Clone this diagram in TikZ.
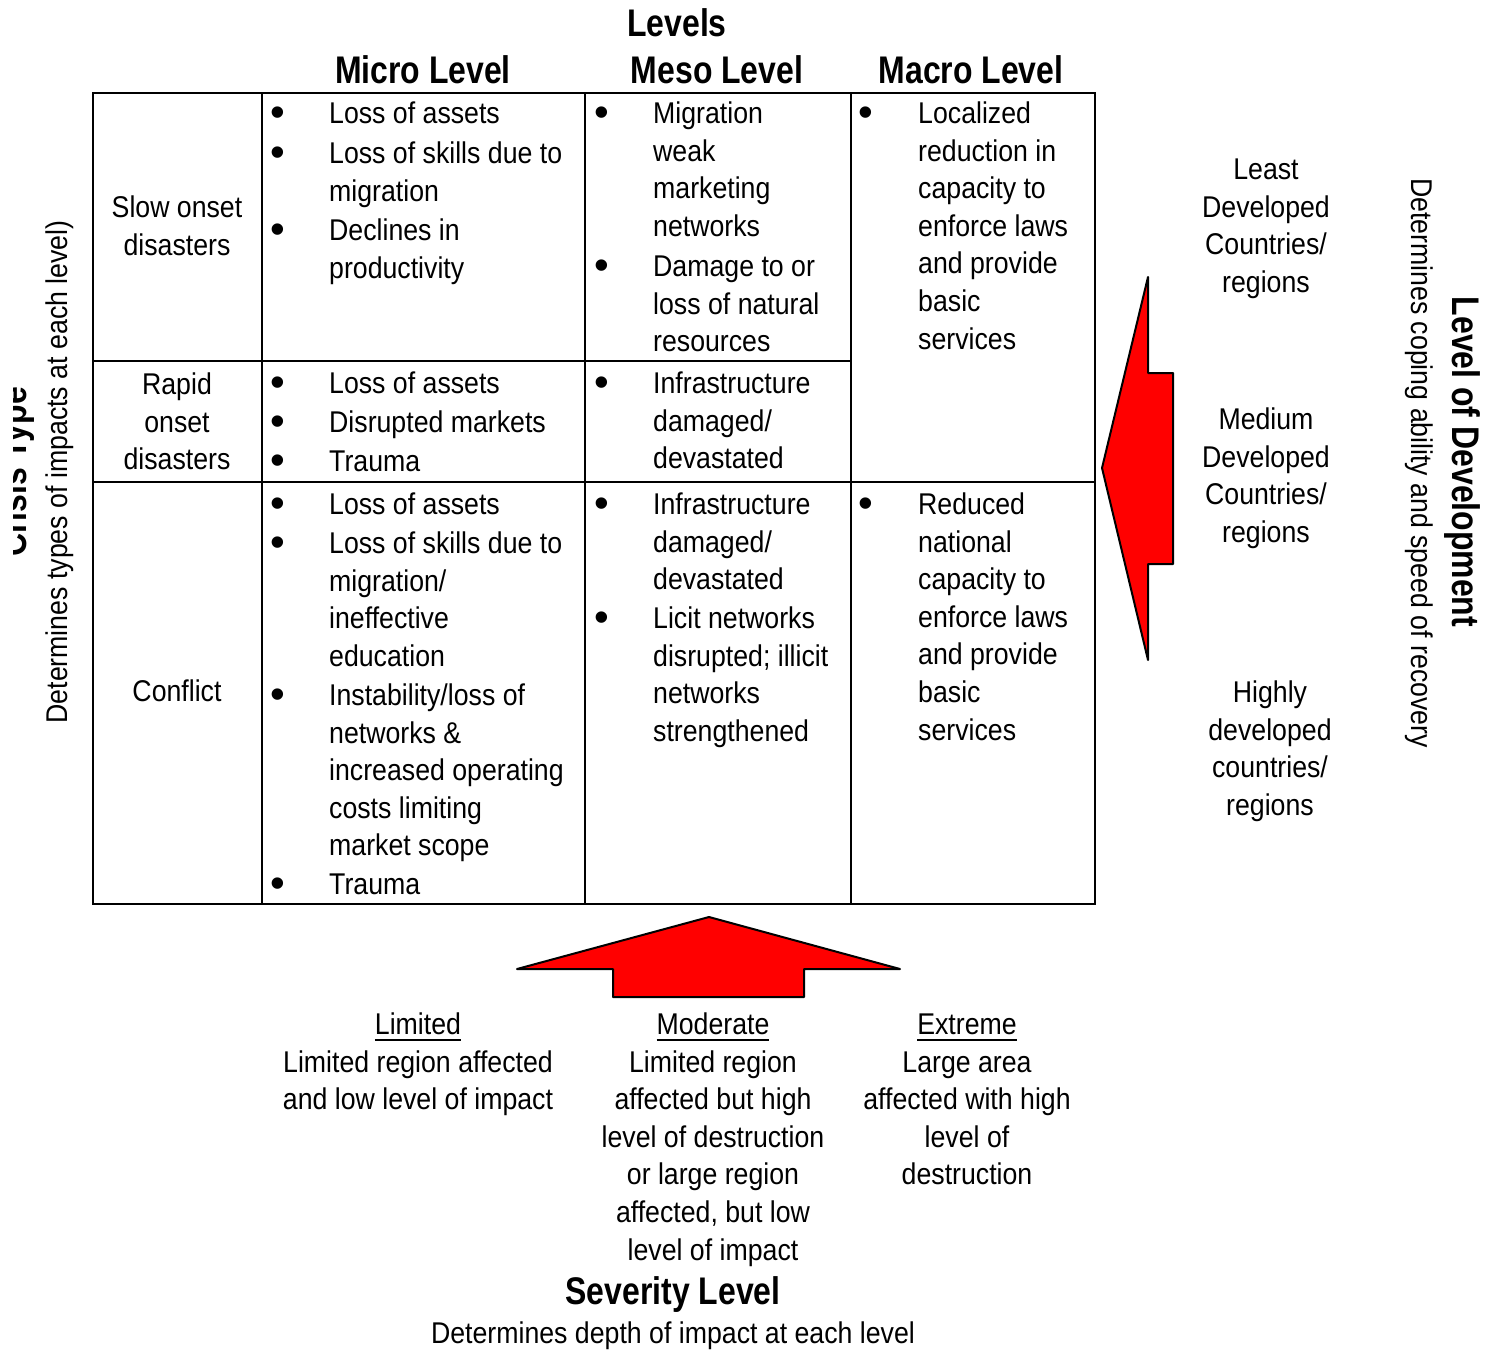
\documentclass[tikz,border=0pt]{standalone}
\usepackage{fontspec}
\setmainfont{Liberation Sans}[FakeStretch=0.89]
\newfontfamily\hdfont{Liberation Sans}[FakeStretch=0.83]
\newfontfamily\bulfont{Liberation Sans}
\newcommand{\myul}[1]{\setbox0\hbox{#1}\leavevmode\rlap{\rule[-6pt]{\wd0}{2pt}}\box0}
\tikzset{
  reg/.style={font=\fontsize{30}{37.6}\selectfont},
  txt/.style={reg, inner sep=0pt, align=left, anchor=north west},
  ctxt/.style={reg, inner sep=0pt, align=center, anchor=north},
  bul/.style={inner sep=0pt, anchor=base, font=\bulfont\fontsize{42}{42}\selectfont},
  hd/.style={inner sep=0pt, font=\hdfont\bfseries\fontsize{38.5}{45}\selectfont},
  tbl/.style={line width=2pt, line cap=rect},
  bigarrow/.style={draw=black, line width=2pt, fill=red, line join=round}
}
\newcommand{\bl}{\textbullet}
\begin{document}
\begin{tikzpicture}[x=1pt,y=-1pt]
\useasboundingbox (0,0) rectangle (1488,1349);

% table
\draw[tbl] (93,93) rectangle (1095,904);
\draw[tbl] (262,93) -- (262,904);
\draw[tbl] (585,93) -- (585,904);
\draw[tbl] (851,93) -- (851,904);
\draw[tbl] (93,361) -- (851,361);
\draw[tbl] (93,482) -- (1095,482);

% headers
\node[hd] (lev) at (677,23) {Levels};
\node[hd] (mic) at (423,70) {Micro Level};
\node[hd] (mes) at (717,70) {Meso Level};
\node[hd] (mac) at (971,70) {Macro Level};

% row labels
\node[ctxt] (rslow) at (177,191) {\strut Slow onset\\disasters};
\node[ctxt] (rrapid) at (177,368) {\strut Rapid\\onset\\disasters};
\node[ctxt] (rconf) at (177,675) {\strut Conflict};

% micro column
\foreach \y [count=\i] in {97,137,214,367,406,445,488,527,679,868}
  \node[bul] (mb\i) at (278,\y+29) {\bl};
\node[txt] (m1) at (329,97) {\strut Loss of assets};
\node[txt] (m2) at (329,137) {\strut Loss of skills due to\\migration};
\node[txt] (m3) at (329,214) {\strut Declines in\\productivity};
\node[txt] (m4) at (329,367) {\strut Loss of assets};
\node[txt] (m5) at (329,406) {\strut Disrupted markets};
\node[txt] (m6) at (329,445) {\strut Trauma};
\node[txt] (m7) at (329,488) {\strut Loss of assets};
\node[txt] (m8) at (329,527) {\strut Loss of skills due to\\migration/\\ineffective\\education};
\node[txt] (m9) at (329,679) {\strut Instability/loss of\\networks \&\\increased operating\\costs limiting\\market scope};
\node[txt] (m10) at (329,868) {\strut Trauma};

% meso column
\foreach \y [count=\i] in {97,250,367,488,602}
  \node[bul] (eb\i) at (602,\y+29) {\bl};
\node[txt] (e1) at (653,97) {\strut Migration\\weak\\marketing\\networks};
\node[txt] (e2) at (653,250) {\strut Damage to or\\loss of natural\\resources};
\node[txt] (e3) at (653,367) {\strut Infrastructure\\damaged/\\devastated};
\node[txt] (e4) at (653,488) {\strut Infrastructure\\damaged/\\devastated};
\node[txt] (e5) at (653,602) {\strut Licit networks\\disrupted; illicit\\networks\\strengthened};

% macro column
\node[bul] (ab1) at (866,126) {\bl};
\node[bul] (ab2) at (866,517) {\bl};
\node[txt] (a1) at (918,97) {\strut Localized\\reduction in\\capacity to\\enforce laws\\and provide\\basic\\services};
\node[txt] (a2) at (918,488) {\strut Reduced\\national\\capacity to\\enforce laws\\and provide\\basic\\services};

% development levels
\node[ctxt] (least) at (1266,153) {\strut Least\\Developed\\Countries/\\regions};
\node[ctxt] (medium) at (1266,403) {\strut Medium\\Developed\\Countries/\\regions};
\node[ctxt] (highly) at (1270,676) {\strut Highly\\developed\\countries/\\regions};

% arrows
\draw[bigarrow] (1102,468) -- (1148,277) -- (1148,373) -- (1173,373) -- (1173,564) -- (1148,564) -- (1148,660) -- cycle;
\draw[bigarrow] (517,969) -- (709,917) -- (900,969) -- (804,969) -- (804,997) -- (613,997) -- (613,969) -- cycle;

% severity
\node[ctxt] (limited) at (418,1008) {\strut\myul{Limited}\\Limited region affected\\and low level of impact};
\node[ctxt] (moderate) at (713,1008) {\strut\myul{Moderate}\\Limited region\\affected but high\\level of destruction\\or large region\\affected, but low\\level of impact};
\node[ctxt] (extreme) at (967,1008) {\strut\myul{Extreme}\\Large area\\affected with high\\level of\\destruction};
\node[hd, anchor=base] (sev) at (673,1304) {Severity Level};
\node[reg, inner sep=0pt, anchor=base] (sevsub) at (673,1343) {Determines depth of impact at each level};

% rotated labels
\node[reg, inner sep=0pt, rotate=90, anchor=base] (ctsub) at (67,472) {Determines types of impacts at each level)};
\begin{scope}
  \clip (13,0) rectangle (200,1349);
  \node[hd, rotate=90, anchor=base] (ct) at (27,472) {Crisis Type};
\end{scope}
\node[hd, rotate=-90, anchor=base] (lod) at (1452,462) {Level of Development};
\node[reg, inner sep=0pt, rotate=-90, anchor=base] (lodsub) at (1411,463) {Determines coping ability and speed of recovery};
\end{tikzpicture}
\end{document}
